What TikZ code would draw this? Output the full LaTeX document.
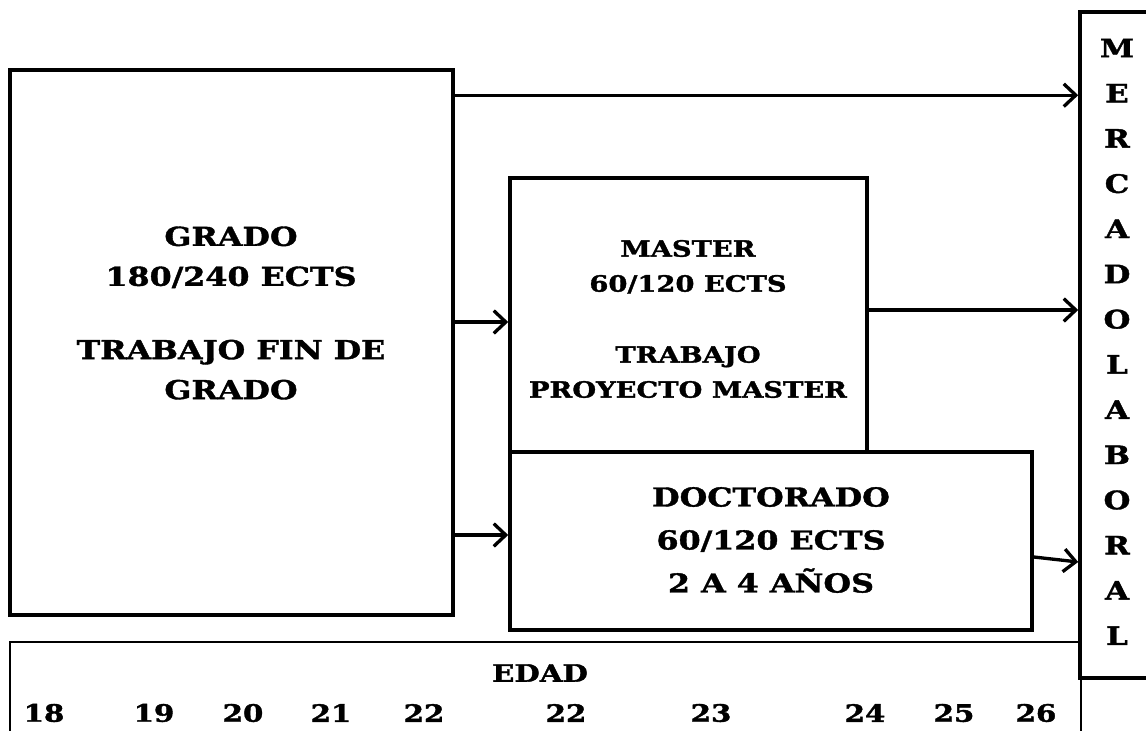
\documentclass[tikz,border=0pt]{standalone}
\usepackage{fontspec}
\setmainfont{DejaVu Serif}[FakeStretch=1.22, BoldFeatures={FakeBold=1.5}]
\usetikzlibrary{arrows.meta,positioning,fit}

\begin{document}
\begin{tikzpicture}[
  x=0.75pt, y=-0.75pt,
  caja/.style={draw=black, line width=2.7pt, inner sep=0pt},
  fina/.style={draw=black, line width=1.1pt, inner sep=0pt},
  txt/.style={font=\bfseries\fontsize{19.5}{30}\selectfont, align=center, inner sep=0pt},
  txtm/.style={font=\bfseries\fontsize{16.8}{26.25}\selectfont, align=center, inner sep=0pt},
  letra/.style={font=\bfseries\fontsize{19}{19}\selectfont, inner sep=0pt},
  num/.style={font=\bfseries\fontsize{18}{18}\selectfont, inner sep=0pt},
  flecha/.style={-{Straight Barb[length=9pt,width=17pt]}, line width=2.5pt}
]
\fill[white] (0,0) rectangle (1146,731);
\useasboundingbox (0,0) rectangle (1146,731);
\clip (0,0) rectangle (1146,731);
% --- edad (bottom) ---
\node[fina, fit={(10,642) (1081,800)}] (edad) {};
\node[num] (edadtxt) at (540,673) {EDAD};
\foreach \n/\x [count=\i] in {18/44, 19/154, 20/243, 21/331, 22/424, 22/566, 23/711, 24/865, 25/954, 26/1036}
  \node[num] (e\i) at (\x,713) {\n};
% --- boxes ---
\node[caja, fit={(10,70) (453,615)}] (grado) {};
\node[caja, fit={(510,178) (867,452)}] (master) {};
\node[caja, fit={(510,452) (1032,630)}] (doctorado) {};
\node[caja, fit={(1080,12) (1300,678)}] (mercado) {};
% --- texts ---
\node[txt] (gradotxt) at (231,313) {GRADO\\180/240 ECTS\\[25pt]TRABAJO FIN DE\\GRADO};
\node[txtm] (mastertxt) at (688,319) {MASTER\\60/120 ECTS\\[27pt]TRABAJO\\PROYECTO MASTER};
\node[txt, font=\bfseries\fontsize{19.5}{32.25}\selectfont] (doctxt) at (771,540) {DOCTORADO\\60/120 ECTS\\2 A 4 AÑOS};
\foreach \l [count=\i from 0] in {M,E,R,C,A,D,O,L,A,B,O,R,A,L}
  \node[letra] (m\i) at (1117,48+45.2*\i) {\l};
% --- arrows ---
\path (grado.north east) ++(0,27) coordinate (g1);
\draw[flecha] (g1) -- (g1 -| mercado.west);
\path (master.west) ++(0,7) coordinate (g2);
\draw[flecha] (g2 -| grado.east) -- (g2);
\path (master.east) ++(0,-5) coordinate (m1);
\draw[flecha] (m1) -- (m1 -| mercado.west);
\path (doctorado.west) ++(0,-6) coordinate (g3);
\draw[flecha] (g3 -| grado.east) -- (g3);
\path (doctorado.east) ++(0,16) coordinate (d1);
\path (doctorado.east) ++(0,21) coordinate (d2);
\draw[flecha] (d1) -- (d2 -| mercado.west);
\end{tikzpicture}
\end{document}
